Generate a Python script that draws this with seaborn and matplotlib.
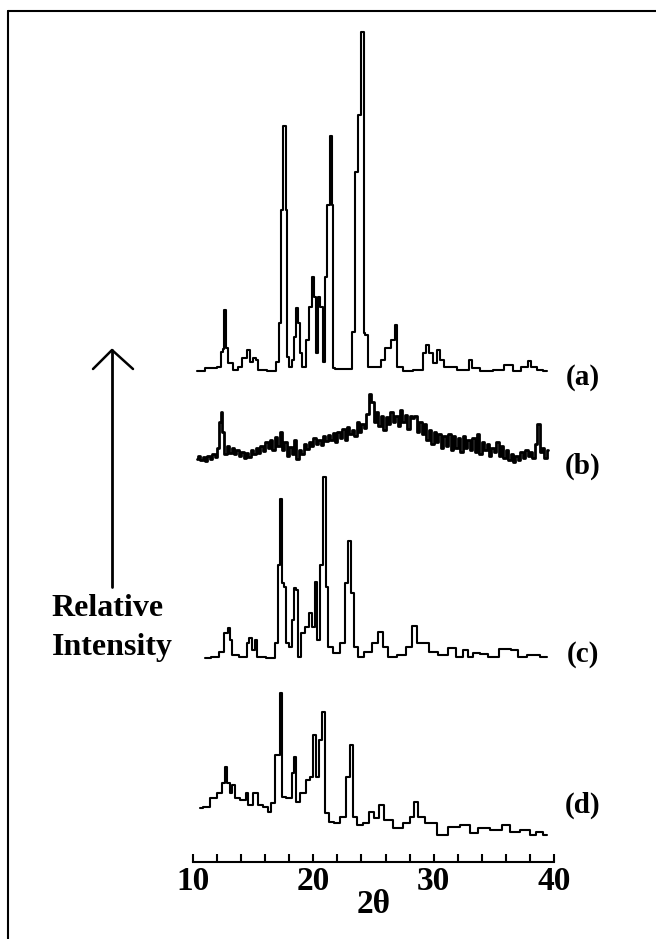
import pandas as pd
import matplotlib.pyplot as plt
import matplotlib.lines as mlines
import seaborn as sns

# XRD patterns, 2theta (deg) and relative intensity (arbitrary units)

# (a)
theta_a = [10.3, 11.69, 12.25, 12.38, 12.55, 12.66, 12.8, 13.08, 13.5, 13.9, 14.32, 14.6, 14.88,
           15.15, 15.3, 15.57, 16.68, 17.1, 17.23, 17.37, 17.56, 17.73, 17.79, 17.87, 18.06,
           18.34, 18.48, 18.67, 18.81, 18.95, 19.23, 19.5, 19.78, 20.0, 20.14, 20.28, 20.42,
           20.7, 20.89, 21.06, 21.22, 21.47, 21.61, 21.72, 21.94, 23.05, 23.33, 23.6, 23.83,
           24.02, 24.13, 24.21, 24.43, 24.65, 25.54, 25.68, 26.23, 26.65, 26.87, 27.07, 27.76,
           28.87, 29.28, 29.48, 29.76, 30.12, 30.39, 30.67, 31.08, 32.75, 33.08, 33.3, 34.41,
           35.52, 36.21, 36.49, 36.76, 37.73, 37.93, 38.29, 38.84, 39.4]
int_a = [0, 3, 4, 19, 22, 61, 23, 8, 1, 4, 13, 21, 9,
         13, 11, 1, 0, 9, 48, 161, 245, 245, 161, 14, 4,
         11, 34, 63, 48, 18, 4, 31, 64, 94, 74, 18, 74,
         64, 9, 94, 166, 235, 166, 3, 2, 2, 39, 199, 256,
         339, 339, 38, 36, 4, 4, 11, 23, 31, 46, 4, 0,
         1, 18, 26, 18, 8, 21, 11, 4, 1, 11, 3, 0,
         1, 6, 6, 0, 4, 10, 4, 1, 0]

# (b)
theta_b = [10.3, 10.5, 10.7, 10.9, 11.1, 11.3, 11.5, 11.7, 11.9, 12.1, 12.3, 12.4, 12.5, 12.7,
           12.9, 13.1, 13.3, 13.5, 13.7, 13.9, 14.1, 14.3, 14.5, 14.7, 14.9, 15.1, 15.3, 15.5,
           15.7, 15.9, 16.1, 16.3, 16.5, 16.7, 16.9, 17.1, 17.3, 17.5, 17.7, 17.9, 18.1, 18.3,
           18.5, 18.7, 18.9, 19.1, 19.3, 19.5, 19.7, 19.9, 20.1, 20.3, 20.5, 20.7, 20.9, 21.1,
           21.3, 21.5, 21.7, 21.9, 22.1, 22.3, 22.5, 22.7, 22.9, 23.1, 23.3, 23.5, 23.7, 23.9,
           24.1, 24.3, 24.5, 24.7, 24.9, 25.1, 25.3, 25.5, 25.7, 25.9, 26.1, 26.3, 26.5, 26.7,
           26.9, 27.1, 27.3, 27.5, 27.7, 27.9, 28.1, 28.3, 28.5, 28.7, 28.9, 29.1, 29.3, 29.5,
           29.7, 29.9, 30.1, 30.3, 30.5, 30.7, 30.9, 31.1, 31.3, 31.5, 31.7, 31.9, 32.1, 32.3,
           32.5, 32.7, 32.9, 33.1, 33.3, 33.5, 33.7, 33.9, 34.1, 34.3, 34.5, 34.7, 34.9, 35.1,
           35.3, 35.5, 35.7, 35.9, 36.1, 36.3, 36.5, 36.7, 36.9, 37.1, 37.3, 37.5, 37.7, 37.9,
           38.1, 38.3, 38.5, 38.7, 38.9, 39.1, 39.3, 39.5]
int_b = [3, 6, 2, 5, 1, 6, 3, 8, 5, 14, 40, 50, 30, 8,
         16, 9, 14, 8, 12, 6, 10, 4, 9, 5, 12, 8, 14, 9,
         16, 11, 20, 14, 22, 12, 25, 16, 30, 12, 20, 6, 15, 8,
         22, 3, 12, 8, 18, 13, 20, 16, 24, 18, 22, 17, 26, 21,
         27, 22, 29, 20, 30, 24, 33, 22, 35, 28, 32, 26, 40, 30,
         38, 34, 48, 68, 60, 40, 50, 36, 46, 32, 45, 38, 50, 40,
         46, 36, 52, 40, 47, 33, 46, 44, 46, 30, 40, 28, 38, 22,
         32, 18, 30, 20, 28, 14, 26, 16, 28, 12, 26, 14, 24, 10,
         26, 14, 22, 12, 24, 10, 28, 8, 20, 12, 18, 6, 14, 10,
         20, 6, 16, 4, 12, 2, 8, 0, 6, 2, 10, 4, 12, 6,
         10, 4, 18, 38, 10, 14, 4, 12]

# (c)
theta_c = [11.0, 11.97, 12.38, 12.8, 12.94, 13.13, 13.35, 14.32, 14.6, 14.79, 15.01, 15.24, 15.46,
           16.73, 16.96, 17.09, 17.29, 17.43, 17.65, 17.84, 18.12, 18.34, 18.48, 18.62, 18.78,
           19.12, 19.45, 19.78, 20.0, 20.2, 20.39, 20.67, 20.92, 21.11, 21.33, 21.94, 22.5,
           22.77, 23.0, 23.27, 23.5, 23.88, 24.57, 25.13, 25.68, 25.96, 26.51, 27.34, 28.03,
           28.45, 28.73, 29.28, 29.97, 30.8, 31.63, 32.05, 32.75, 33.02, 33.44, 34.27, 34.82,
           36.07, 36.76, 37.18, 38.29, 39.4]
int_c = [0, 1, 6, 25, 30, 18, 3, 1, 15, 20, 8, 18, 1,
         0, 15, 93, 159, 75, 71, 15, 11, 38, 70, 68, 1,
         25, 31, 45, 31, 76, 18, 93, 181, 71, 11, 5, 15,
         75, 117, 65, 11, 1, 6, 15, 26, 11, 1, 3, 11,
         32, 15, 15, 6, 3, 10, 1, 8, 1, 5, 4, 1,
         9, 8, 1, 3, 1]

# (d)
theta_d = [10.58, 11.14, 11.69, 12.25, 12.58, 12.75, 12.94, 13.13, 13.35, 13.57, 14.32, 14.46,
           14.74, 15.24, 15.51, 16.07, 16.35, 16.68, 16.96, 17.18, 17.32, 17.45, 18.06, 18.34,
           18.48, 18.62, 19.17, 19.59, 19.87, 20.14, 20.34, 20.61, 20.89, 21.03, 21.53, 21.94,
           22.5, 22.91, 23.19, 23.38, 23.88, 24.43, 24.85, 25.26, 25.68, 26.1, 27.21, 27.76,
           28.31, 28.5, 28.87, 29.7, 30.8, 31.63, 32.75, 33.3, 34.13, 35.24, 36.07, 36.62,
           37.73, 38.29, 38.7, 39.4]
int_d = [32, 33, 42, 47, 57, 73, 57, 47, 55, 42, 40, 47,
         35, 47, 35, 33, 28, 37, 85, 85, 147, 43, 42, 67,
         83, 38, 47, 60, 63, 105, 63, 100, 128, 27, 18, 17,
         23, 63, 95, 23, 15, 17, 28, 22, 35, 20, 12, 17,
         23, 38, 23, 17, 5, 13, 15, 7, 12, 10, 15, 8,
         10, 5, 8, 5]

labels = ["(a)", "(b)", "(c)", "(d)"]
offsets = [491, 400, 204, 22]   # vertical stacking of the patterns
widths = [1.5, 2.0, 1.5, 1.5]

W, H = 656, 939
sns.set_style("white")
plt.rcParams['font.family'] = ['Liberation Serif', 'DejaVu Serif']
plt.rcParams['font.weight'] = 'bold'
plt.rcParams['text.color'] = 'black'
plt.rcParams['xtick.color'] = 'black'
plt.rcParams['axes.labelcolor'] = 'black'

fig = plt.figure(figsize=(W / 100, H / 100), dpi=100)
ax = fig.add_axes([193 / W, (H - 862) / H, (554 - 193) / W, (862 - 15) / H])

series = [(theta_a, int_a), (theta_b, int_b), (theta_c, int_c), (theta_d, int_d)]
for (th, inten), off, lw in zip(series, offsets, widths):
    df = pd.DataFrame({"theta": th, "I": [v + off for v in inten]})
    sns.lineplot(data=df, x="theta", y="I", ax=ax, color="black", lw=lw,
                 estimator=None, sort=False, drawstyle="steps-mid")

ax.set_xlim(10, 40)
ax.set_ylim(0, 847)
ax.set_xticks([10, 20, 30, 40])
ax.set_xticks(range(10, 41, 2), minor=True)
ax.set_xticklabels(["10", "20", "30", "40"], fontsize=24, fontweight="bold")
ax.tick_params(axis="x", which="both", bottom=True, direction="in", length=6, width=1.5,
               pad=3, colors="black")
ax.set_yticks([])
ax.set_xlabel("2θ", fontsize=24, fontweight="bold", labelpad=-6)
ax.set_ylabel("")
for s in ["left", "right", "top"]:
    ax.spines[s].set_visible(False)
ax.spines["bottom"].set_color("black")
ax.spines["bottom"].set_linewidth(1.5)
ax.patch.set_alpha(0)

# curve labels
label_y = [377, 466, 655, 805]
for lab, yy in zip(labels, label_y):
    fig.text(583 / W, 1 - yy / H, lab, fontsize=21, fontweight="bold", ha="center", va="center")

# relative intensity arrow
fig.add_artist(mlines.Line2D([112 / W, 112 / W], [1 - 587 / H, 1 - 350 / H], color="black", lw=2))
fig.add_artist(mlines.Line2D([93 / W, 112 / W, 133 / W], [1 - 369 / H, 1 - 350 / H, 1 - 369 / H],
                             color="black", lw=1.8))
fig.text(107 / W, 1 - 608 / H, "Relative", fontsize=23, fontweight="bold", ha="center", va="center")
fig.text(112 / W, 1 - 648 / H, "Intensity", fontsize=23, fontweight="bold", ha="center", va="center")

# frame
fig.add_artist(mlines.Line2D([8 / W, 8 / W], [0, 1 - 11 / H], color="black", lw=1.5))
fig.add_artist(mlines.Line2D([8 / W, 1], [1 - 11 / H, 1 - 11 / H], color="black", lw=1.5))

fig.savefig("out.png", dpi=100)
